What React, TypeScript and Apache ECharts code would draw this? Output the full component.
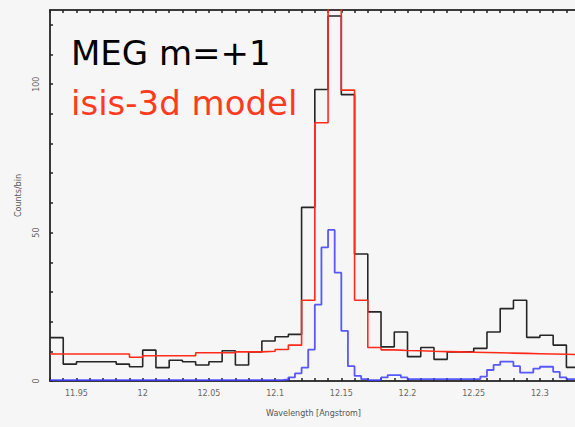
import React, { useEffect, useRef } from "react";
import * as echarts from "echarts";

// Histogram binning (Angstrom)
const BIN_START = 11.93;
const COARSE_WIDTH = 0.01;
const FINE_WIDTH = 0.005;

// Observed MEG m=+1 counts per 0.01 A bin, starting at 11.93
const observedCounts = [
  14.6, 5.7, 6.5, 6.5, 6.5, 5.7, 4.8, 10.4, 4.5, 7.0,
  6.5, 5.4, 6.5, 10.2, 5.4, 9.8, 13.5, 14.9, 15.7, 58.5,
  98.2, 123, 96.5, 42.8, 23.3, 11.5, 16.5, 8.2, 11.3, 7.3,
  9.8, 9.8, 11.0, 16.5, 24.4, 27.2, 14.7, 15.4, 12.1, 4.6,
];

// isis-3d model counts per 0.01 A bin
const modelCounts = [
  9.1, 9.1, 9.1, 9.1, 9.1, 9.1, 8.0, 8.5, 8.5, 8.5,
  8.5, 9.5, 9.5, 9.5, 9.8, 9.8, 10.0, 10.6, 12.1, 27.2,
  87, 220, 98, 27.2, 11.3, 10.5, 10.3, 10.2, 10.0, 9.9,
  9.8, 9.7, 9.6, 9.5, 9.4, 9.3, 9.2, 9.1, 9.0, 8.9,
];

// Fine-binned (0.005 A) component
const componentCounts = [
  0.3, 0.3, 0.3, 0.3, 0.3, 0.3, 0.3, 0.3, 0.3, 0.3,
  0.3, 0.3, 0.3, 0.3, 0.3, 0.3, 0.3, 0.3, 0.3, 0.3,
  0.3, 0.3, 0.3, 0.3, 0.3, 0.3, 0.3, 0.3, 0.3, 0.3,
  0.3, 0.3, 0.3, 0.3, 0.3, 0.5, 1.2, 2.6, 4.5, 10.6,
  25.7, 45, 50.9, 36.5, 16.9, 5.0, 1.7, 0.6, 0.3, 0.3,
  1.2, 2.0, 2.0, 1.2, 0.6, 0.6, 0.6, 0.6, 0.6, 0.6,
  0.6, 0.6, 0.6, 0.6, 0.6, 1.5, 3.7, 5.4, 6.5, 6.5,
  5.0, 2.8, 2.8, 4.2, 4.8, 4.8, 3.1, 1.2, 0.6, 0.6,
];

const xTickLabels = [11.95, 12, 12.05, 12.1, 12.15, 12.2, 12.25, 12.3];
const yTickLabels = [0, 50, 100];
const X_MIN = 11.93;
const X_MAX = 12.328;
const Y_MAX = 125;

const xMinorTicks: number[] = [];
for (let i = 0; i <= 40; i++) xMinorTicks.push(+(11.93 + i * 0.01).toFixed(2));
const yMinorTicks: number[] = [];
for (let v = 0; v <= 120; v += 10) yMinorTicks.push(v);

function histogram(values: number[], start: number, width: number) {
  const pts = values.map((v, i) => [start + i * width, v]);
  pts.push([start + values.length * width, values[values.length - 1]]);
  return pts;
}

const fmt = (v: number) => String(Number(v.toFixed(2)));

export default function App() {
  const ref = useRef<HTMLDivElement>(null);
  useEffect(() => {
    if (!ref.current) return;
    const chart = echarts.init(ref.current, undefined, { renderer: "svg" });
    const axisColor = "#3a3a3a";
    const baseX = {
      type: "value",
      min: X_MIN,
      max: X_MAX,
      axisLine: { lineStyle: { color: axisColor, width: 2 } },
      axisTick: {
        inside: true,
        length: 3,
        customValues: xMinorTicks,
        lineStyle: { color: "#222", width: 1.5 },
      },
      splitLine: { show: false },
    };
    chart.setOption({
      animation: false,
      backgroundColor: "#f6f6f6",
      grid: { left: 50, top: 10, right: 3, bottom: 46 },
      xAxis: [
        {
          ...baseX,
          position: "bottom",
          axisLabel: {
            customValues: xTickLabels,
            fontSize: 8,
            color: "#666",
            margin: 8,
            fontFamily: "DejaVu Sans",
            formatter: (v: number) => fmt(v),
          },
          name: "Wavelength [Angstrom]",
          nameLocation: "middle",
          nameGap: 28,
          nameTextStyle: { fontSize: 8, color: "#555", fontFamily: "DejaVu Sans" },
        },
        {
          ...baseX,
          position: "top",
          axisLabel: { show: false },
        },
      ],
      yAxis: {
        type: "value",
        min: 0,
        max: Y_MAX,
        axisLine: { show: true, lineStyle: { color: axisColor, width: 2 } },
        axisTick: {
          show: true,
          inside: true,
          length: 3,
          customValues: yMinorTicks,
          lineStyle: { color: "#222", width: 1.5 },
        },
        axisLabel: {
          customValues: yTickLabels,
          rotate: 90,
          fontSize: 8,
          color: "#666",
          margin: 10,
          fontFamily: "DejaVu Sans",
        },
        splitLine: { show: false },
        name: "Counts/bin",
        nameLocation: "middle",
        nameGap: 28,
        nameRotate: 90,
        nameTextStyle: { fontSize: 8, color: "#555", fontFamily: "DejaVu Sans" },
      },
      series: [
        {
          type: "line",
          step: "end",
          symbol: "none",
          data: histogram(observedCounts, BIN_START, COARSE_WIDTH),
          lineStyle: { color: "#262626", width: 1.6 },
          z: 2,
        },
        {
          type: "line",
          step: "end",
          symbol: "none",
          data: histogram(modelCounts, BIN_START, COARSE_WIDTH),
          lineStyle: { color: "#ff2a1a", width: 1.6 },
          z: 3,
        },
        {
          type: "line",
          step: "end",
          symbol: "none",
          data: histogram(componentCounts, BIN_START, FINE_WIDTH),
          lineStyle: { color: "#3c3cff", width: 1.8, opacity: 0.85 },
          z: 4,
        },
      ],
      graphic: [
        {
          type: "text",
          z: 10,
          style: {
            text: "MEG m=+1",
            x: 71,
            y: 53,
            font: '34px "DejaVu Sans"',
            fill: "#000",
            verticalAlign: "middle",
          },
        },
        {
          type: "text",
          z: 10,
          style: {
            text: "isis-3d model",
            x: 71,
            y: 103,
            font: '34px "DejaVu Sans"',
            fill: "#ff3b1f",
            verticalAlign: "middle",
          },
        },
      ],
    });
    return () => chart.dispose();
  }, []);
  return (
    <div
      style={{
        position: "fixed",
        left: 0,
        top: 0,
        width: 575,
        height: 427,
        overflow: "hidden",
        background: "#f6f6f6",
      }}
    >
      <div ref={ref} style={{ width: 580, height: 427 }} />
    </div>
  );
}
